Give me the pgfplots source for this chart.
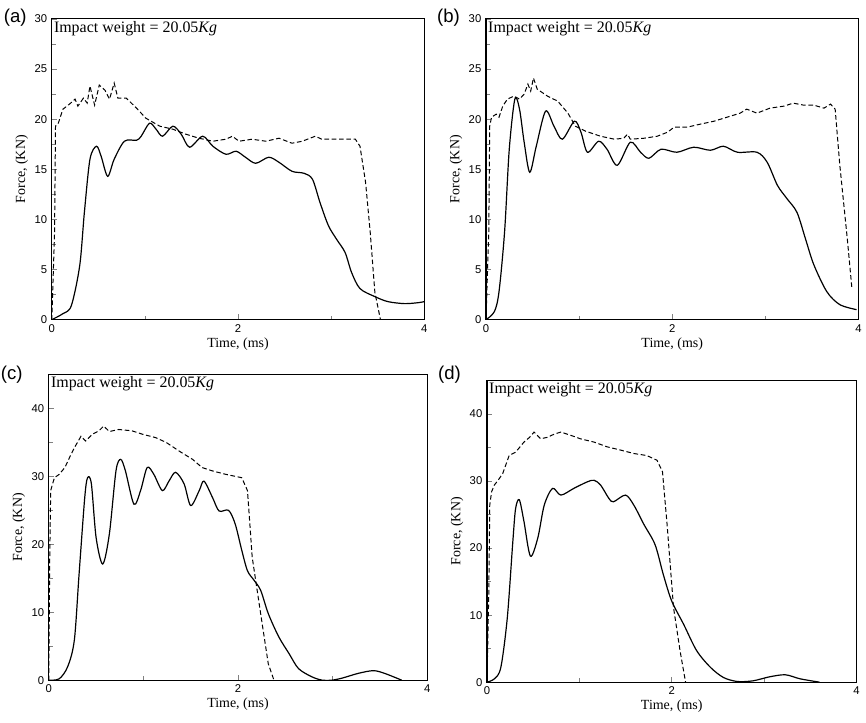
\documentclass[border=0pt]{standalone}
\usepackage{fontspec}
\setmainfont{Liberation Serif}
\setsansfont{Liberation Sans}
\usepackage{pgfplots}
\pgfplotsset{compat=1.18}

\pgfplotsset{
  impact/.style={
    scale only axis,
    anchor=south west,
    xmin=0, xmax=4,
    xtick={0,2,4}, minor x tick num=1,
    minor y tick num=1,
    tick align=inside,
    tick pos=left,
    axis line style={line width=0.8pt},
    major tick length=4pt, minor tick length=3pt,
    tick style={line width=0.6pt},
    ticklabel style={font=\sffamily\fontsize{8.5}{10}\selectfont},
    /pgf/number format/assume math mode=true,
    xlabel={Time, (ms)},
    ylabel={Force, (KN)},
    label style={font=\fontsize{10.5}{12}\selectfont},
    xlabel style={yshift=3pt},
    ylabel style={yshift=-2pt},
    clip mode=individual,
  },
  solid curve/.style={black, line width=0.9pt, smooth, tension=0.5},
  dash curve/.style={black, line width=0.75pt, dash pattern=on 3.5pt off 2pt},
}
\tikzset{panel/.style={anchor=east, inner sep=0pt, font=\sffamily\fontsize{14}{16}\selectfont}}

\newcommand{\impactnote}{\node[anchor=north west, inner sep=1.5pt, font=\fontsize{12}{14}\selectfont] at (rel axis cs:0,1) {Impact weight = 20.05\textit{Kg}};}

\begin{document}
\begin{tikzpicture}
\path (0,0) rectangle (649.5pt,543.75pt);

% (a)
\begin{axis}[impact, at={(39pt,303pt)}, width=280.5pt, height=226.5pt,
  ymin=0, ymax=30, ytick={0,5,10,15,20,25,30}]
\addplot[solid curve] coordinates {
(0,0) (0.12,0.6) (0.21,1.4) (0.30,5.4) (0.35,10.7) (0.41,16.0) (0.48,17.3)
(0.53,16.3) (0.60,14.3) (0.67,16.0) (0.78,17.8) (0.91,17.9) (0.96,18.3)
(1.05,19.6) (1.12,19.0) (1.19,18.3) (1.30,19.3) (1.39,18.5) (1.48,17.2)
(1.62,18.3) (1.73,17.3) (1.87,16.5) (1.98,16.8) (2.08,16.2) (2.19,15.6)
(2.33,16.2) (2.44,15.7) (2.58,14.8) (2.71,14.6) (2.80,14.0) (2.88,11.7)
(2.97,9.4) (3.06,8.0) (3.15,6.7) (3.22,4.7) (3.31,3.1) (3.47,2.3)
(3.61,1.8) (3.79,1.6) (3.94,1.7) (4.0,1.8)};
\addplot[dash curve] coordinates {
(0,0) (0.03,8.7) (0.04,19.3) (0.07,19.6) (0.12,21.0) (0.19,21.5) (0.25,22.0)
(0.28,21.3) (0.34,22.1) (0.38,21.6) (0.41,23.3) (0.46,21.4) (0.51,23.4)
(0.57,22.9) (0.62,22.0) (0.67,23.6) (0.71,22.1) (0.80,22.1) (0.91,21.1)
(1.01,20.1) (1.16,19.3) (1.30,19.0) (1.44,18.5) (1.58,18.1) (1.73,17.8)
(1.87,18.0) (1.94,18.3) (2.01,17.8) (2.15,18.0) (2.30,17.8) (2.44,18.1)
(2.58,17.6) (2.69,17.8) (2.83,18.3) (2.90,18.0) (3.26,18.0) (3.31,17.3)
(3.37,13.7) (3.42,8.7) (3.47,2.7) (3.53,0)};
\impactnote
\node[panel] at (rel axis cs:0,1) [xshift=-18.75pt, yshift=1pt] {(a)};
\end{axis}

% (b)
\begin{axis}[impact, at={(366pt,303pt)}, width=280.5pt, height=226.5pt,
  ymin=0, ymax=30, ytick={0,5,10,15,20,25,30}]
\addplot[solid curve] coordinates {
(0,0) (0.09,0.8) (0.14,2.8) (0.20,8.8) (0.25,17.0) (0.31,22.0) (0.36,21.0)
(0.41,17.7) (0.47,14.7) (0.54,17.3) (0.64,20.8) (0.73,19.3) (0.82,18.0)
(0.95,19.8) (1.02,18.7) (1.09,16.7) (1.21,17.8) (1.30,17.0) (1.41,15.4)
(1.55,17.7) (1.66,16.7) (1.75,16.1) (1.88,17.0) (2.05,16.7) (2.23,17.2)
(2.41,16.9) (2.55,17.3) (2.70,16.7) (2.91,16.7) (3.02,15.7) (3.13,13.4)
(3.23,12.1) (3.34,10.7) (3.43,8.1) (3.52,5.5) (3.66,2.8) (3.80,1.5) (3.98,1.0)};
\addplot[dash curve] coordinates {
(0,0) (0.03,8.8) (0.04,19.3) (0.06,20.2) (0.11,20.5) (0.14,20.2) (0.18,21.3)
(0.23,22.0) (0.30,22.3) (0.36,22.0) (0.41,22.5) (0.45,23.5) (0.48,22.8)
(0.51,24.1) (0.55,23.0) (0.66,22.3) (0.77,21.8) (0.88,20.6) (0.96,19.3)
(1.07,18.8) (1.23,18.3) (1.38,18.0) (1.48,18.1) (1.52,18.5) (1.55,18.0)
(1.70,18.1) (1.84,18.3) (1.95,18.7) (2.02,19.2) (2.16,19.2) (2.30,19.5)
(2.45,19.8) (2.59,20.2) (2.73,20.6) (2.80,21.0) (2.91,20.6) (3.05,21.1)
(3.20,21.3) (3.30,21.6) (3.41,21.4) (3.52,21.4) (3.63,21.1) (3.70,21.5)
(3.75,21.0) (3.80,15.4) (3.88,8.1) (3.93,3.1)};
\impactnote
\node[panel] at (rel axis cs:0,1) [xshift=-19.5pt, yshift=1pt] {(b)};
\end{axis}

% (c)
\begin{axis}[impact, at={(36.75pt,31.5pt)}, width=285pt, height=230.25pt,
  ymin=0, ymax=45, ytick={0,10,20,30,40}]
\addplot[solid curve] coordinates {
(0,0) (0.11,0.2) (0.20,2.0) (0.27,5.9) (0.32,15.6) (0.38,26.9) (0.41,29.8)
(0.45,28.9) (0.50,21.0) (0.57,17.1) (0.64,21.5) (0.71,30.8) (0.76,32.5)
(0.81,30.8) (0.90,25.9) (0.97,27.9) (1.04,31.3) (1.11,30.3) (1.20,27.9)
(1.27,29.3) (1.34,30.6) (1.43,28.9) (1.50,25.7) (1.59,27.9) (1.64,29.3)
(1.73,26.9) (1.80,24.9) (1.90,25.0) (1.97,23.0) (2.04,19.1) (2.10,16.1)
(2.17,14.7) (2.24,13.2) (2.32,9.8) (2.43,6.4) (2.54,3.9) (2.64,1.7)
(2.78,0.5) (2.89,0) (2.99,0) (3.10,0.3) (3.27,1.0) (3.43,1.4) (3.55,1.0) (3.73,0)};
\addplot[dash curve] coordinates {
(0,0) (0.01,18.1) (0.02,27.9) (0.04,28.9) (0.06,29.8) (0.11,30.3) (0.17,31.3)
(0.22,32.8) (0.27,34.2) (0.34,35.9) (0.39,35.2) (0.46,36.2) (0.53,36.7)
(0.58,37.4) (0.64,36.6) (0.74,36.9) (0.88,36.7) (0.99,36.2) (1.13,35.7)
(1.24,35.0) (1.38,33.7) (1.52,32.5) (1.62,31.3) (1.73,30.8) (1.87,30.3)
(2.04,29.8) (2.10,27.9) (2.15,18.1) (2.25,8.8) (2.32,2.4) (2.38,0)};
\impactnote
\node[panel] at (rel axis cs:0,1) [xshift=-19.5pt, yshift=0pt] {(c)};
\end{axis}

% (d)
\begin{axis}[impact, at={(366.75pt,30pt)}, width=278.25pt, height=227.25pt,
  ymin=0, ymax=45, ytick={0,10,20,30,40}]
\addplot[solid curve] coordinates {
(0,0) (0.08,0.5) (0.15,2.2) (0.22,9.6) (0.28,21.0) (0.31,25.9) (0.35,27.2)
(0.40,24.0) (0.47,18.8) (0.55,21.5) (0.62,26.4) (0.71,28.9) (0.80,27.9)
(0.94,28.9) (1.09,29.9) (1.16,30.1) (1.23,29.4) (1.32,27.4) (1.37,26.9)
(1.50,27.9) (1.59,26.4) (1.70,23.5) (1.82,20.5) (1.91,16.0) (2.00,12.1)
(2.13,8.6) (2.27,4.7) (2.42,2.2) (2.56,0.7) (2.71,0.1) (2.88,0.2) (3.06,0.8)
(3.23,1.1) (3.39,0.5) (3.60,0)};
\addplot[dash curve] coordinates {
(0,0) (0.02,13.6) (0.03,26.4) (0.05,28.4) (0.08,29.4) (0.12,30.1) (0.17,31.1)
(0.24,33.8) (0.31,34.3) (0.40,35.8) (0.46,36.5) (0.51,37.3) (0.58,36.3)
(0.65,36.5) (0.73,37.0) (0.80,37.3) (0.91,36.8) (1.01,36.3) (1.16,35.8)
(1.30,35.1) (1.45,34.6) (1.59,34.1) (1.73,33.8) (1.84,33.1) (1.90,31.4)
(1.95,23.5) (2.02,11.1) (2.09,4.7) (2.15,0)};
\impactnote
\node[panel] at (rel axis cs:0,1) [xshift=-19.5pt, yshift=4.5pt] {(d)};
\end{axis}
\end{tikzpicture}
\end{document}
